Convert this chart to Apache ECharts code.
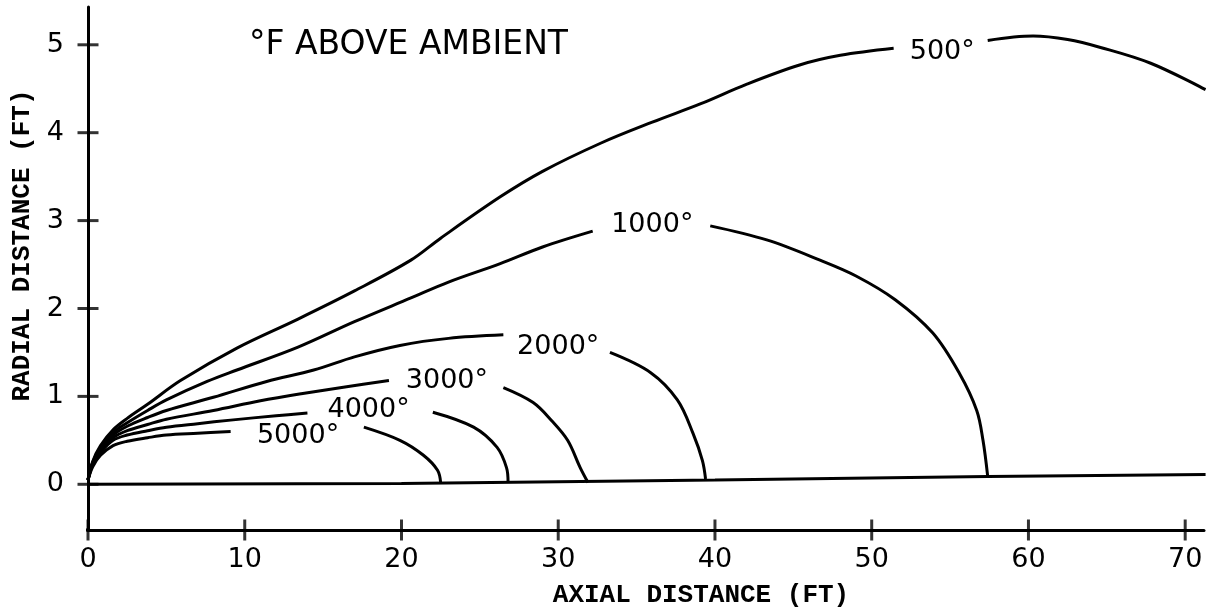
<!DOCTYPE html>
<html>
<head>
<meta charset="utf-8">
<script src="https://cdn.jsdelivr.net/npm/echarts@6/dist/echarts.min.js"></script>
<style>
html,body{margin:0;padding:0;background:#fff;}
#chart{width:1221px;height:615px;}
</style>
</head>
<body>
<div id="chart"></div>
<script>
// ---- data (ft) ----
var xTicks = [0, 10, 20, 30, 40, 50, 60, 70];
var yTicks = [0, 1, 2, 3, 4, 5];

var iso500 = [[0,0.05],[0.3,0.26],[0.8,0.44],[1.6,0.62],[2.5,0.75],[3.8,0.91],[5.9,1.18],[9.5,1.55],[13.4,1.88],[17,2.2],[20.6,2.55],[22.5,2.8],[26.3,3.27],[29,3.56],[32.7,3.88],[36,4.12],[39.1,4.33],[42,4.55],[45.4,4.77],[48,4.88],[51.4,4.96],[null,null],[57.4,5.05],[60.3,5.1],[62.5,5.06],[64.6,4.97],[67.8,4.79],[71.3,4.49]];
var iso1000 = [[0,0.05],[0.3,0.25],[0.8,0.42],[1.6,0.59],[2.5,0.7],[3.8,0.84],[5,0.96],[7.6,1.17],[9.5,1.3],[13.4,1.56],[17,1.85],[20.6,2.12],[23,2.3],[26.3,2.51],[29,2.7],[32.2,2.88],[null,null],[39.7,2.94],[43.3,2.78],[46.7,2.55],[49,2.37],[51.5,2.1],[53.9,1.72],[55.6,1.26],[56.7,0.84],[57.1,0.5],[57.4,0.09]];
var iso2000 = [[0,0.05],[0.3,0.24],[0.8,0.4],[1.6,0.56],[2.5,0.66],[3.8,0.76],[5,0.84],[8,0.99],[11.4,1.17],[14.4,1.3],[17,1.45],[19.9,1.58],[23,1.66],[26.5,1.7],[null,null],[33.3,1.5],[35.9,1.27],[37.6,0.96],[38.6,0.58],[39.2,0.27],[39.4,0.06]];
var iso3000 = [[0,0.05],[0.3,0.23],[0.8,0.38],[1.6,0.53],[2.5,0.61],[3.8,0.68],[5,0.74],[8,0.84],[11,0.95],[13.6,1.03],[16.5,1.11],[19.2,1.18],[null,null],[26.5,1.1],[28.4,0.93],[29.6,0.72],[30.6,0.5],[31.4,0.19],[31.9,0.02]];
var iso4000 = [[0,0.05],[0.3,0.22],[0.8,0.36],[1.6,0.5],[2.5,0.56],[3.8,0.61],[5,0.65],[7,0.69],[9.1,0.73],[12,0.78],[14,0.81],[null,null],[22,0.82],[24.6,0.65],[26.1,0.42],[26.7,0.19],[26.8,0.02]];
var iso5000 = [[0,0.05],[0.3,0.2],[0.8,0.33],[1.6,0.44],[2.5,0.49],[3.8,0.53],[5,0.56],[7,0.58],[9.1,0.6],[null,null],[17.6,0.65],[19.9,0.5],[21.4,0.33],[22.3,0.16],[22.5,0.02]];
var baseLine = [[0,0],[20,0.01],[40,0.05],[57.4,0.09],[71.3,0.11]];

var isoNames = ['500°', '1000°', '2000°', '3000°', '4000°', '5000°'];
var isoLabelX = [54.5, 36.0, 30.0, 22.9, 17.9, 13.4];
var isoLabelY = [4.92, 2.95, 1.56, 1.17, 0.84, 0.55];

var chartTitle = '°F ABOVE AMBIENT';
var xName = 'AXIAL DISTANCE (FT)';
var yName = 'RADIAL DISTANCE (FT)';

// ---- axis extents ----
var X_MIN = 0, X_MAX = 71.2;
var Y_MIN = -0.52, Y_MAX = 5.43;
var axisStub = [[-0.6, Y_MIN], [0, Y_MIN]];

// ---- chart ----
var chart = echarts.init(document.getElementById('chart'), null, {renderer: 'canvas'});
var INK = '#000';
var LW = 3;
var tickFont = {color: INK, fontFamily: 'DejaVu Sans', fontSize: 27};
var monoFont = {color: INK, fontFamily: 'Liberation Mono', fontWeight: 'bold', fontSize: 26};

function curve(name, data) {
  return {
    name: name, type: 'line', data: data, smooth: 0.35, showSymbol: false,
    connectNulls: false, clip: false, silent: true,
    lineStyle: {color: INK, width: LW}
  };
}

var labelData = isoNames.map(function (n, i) { return [isoLabelX[i], isoLabelY[i], n]; });
// cross-shaped tick marks sitting on the axis lines
var xTickMarks = xTicks.map(function (v) { return [v, Y_MIN]; });
var yTickMarks = yTicks.map(function (v) { return [X_MIN, v]; });

chart.setOption({
  animation: false,
  backgroundColor: '#fff',
  title: {
    text: chartTitle, left: 244, top: 24,
    textStyle: {color: INK, fontFamily: 'DejaVu Sans', fontSize: 33, fontWeight: 'normal'}
  },
  grid: {left: 88, right: 17, top: 7, bottom: 85, containLabel: false},
  xAxis: {
    type: 'value', min: X_MIN, max: X_MAX, position: 'bottom',
    name: xName, nameLocation: 'middle', nameGap: 52,
    nameTextStyle: Object.assign({padding: [0, 0, 0, 110]}, monoFont),
    axisLine: {onZero: false, lineStyle: {color: INK, width: LW}},
    axisTick: {show: false, customValues: xTicks},
    axisLabel: Object.assign({customValues: xTicks, margin: 16}, tickFont),
    splitLine: {show: false}
  },
  yAxis: {
    type: 'value', min: Y_MIN, max: Y_MAX, position: 'left',
    name: yName, nameLocation: 'middle', nameGap: 50, nameRotate: 90,
    nameTextStyle: Object.assign({padding: [0, 0, 0, 46]}, monoFont),
    axisLine: {onZero: false, lineStyle: {color: INK, width: LW}},
    axisTick: {show: false, customValues: yTicks},
    axisLabel: Object.assign({customValues: yTicks, margin: 24}, tickFont),
    splitLine: {show: false}
  },
  series: [
    curve('500°', iso500),
    curve('1000°', iso1000),
    curve('2000°', iso2000),
    curve('3000°', iso3000),
    curve('4000°', iso4000),
    curve('5000°', iso5000),
    {
      name: 'axis', type: 'line', data: baseLine, showSymbol: false, clip: false, silent: true,
      lineStyle: {color: INK, width: LW}
    },
    {
      name: 'stub', type: 'line', data: axisStub, showSymbol: false, clip: false, silent: true,
      lineStyle: {color: INK, width: LW}
    },
    {
      name: 'xTickMarks', type: 'scatter', data: xTickMarks, clip: false, silent: true,
      symbol: 'rect', symbolSize: [3, 21], itemStyle: {color: INK}, z: 4
    },
    {
      name: 'yTickMarks', type: 'scatter', data: yTickMarks, clip: false, silent: true,
      symbol: 'rect', symbolSize: [21, 3], itemStyle: {color: INK}, z: 4
    },
    {
      name: 'labels', type: 'scatter', data: labelData, symbolSize: 0, silent: true,
      itemStyle: {color: INK, opacity: 1},
      label: {
        show: true, position: 'inside', opacity: 1,
        formatter: function (p) { return p.data[2]; },
        color: INK, fontFamily: 'DejaVu Sans', fontSize: 27
      },
      z: 5
    }
  ]
});
</script>
</body>
</html>
